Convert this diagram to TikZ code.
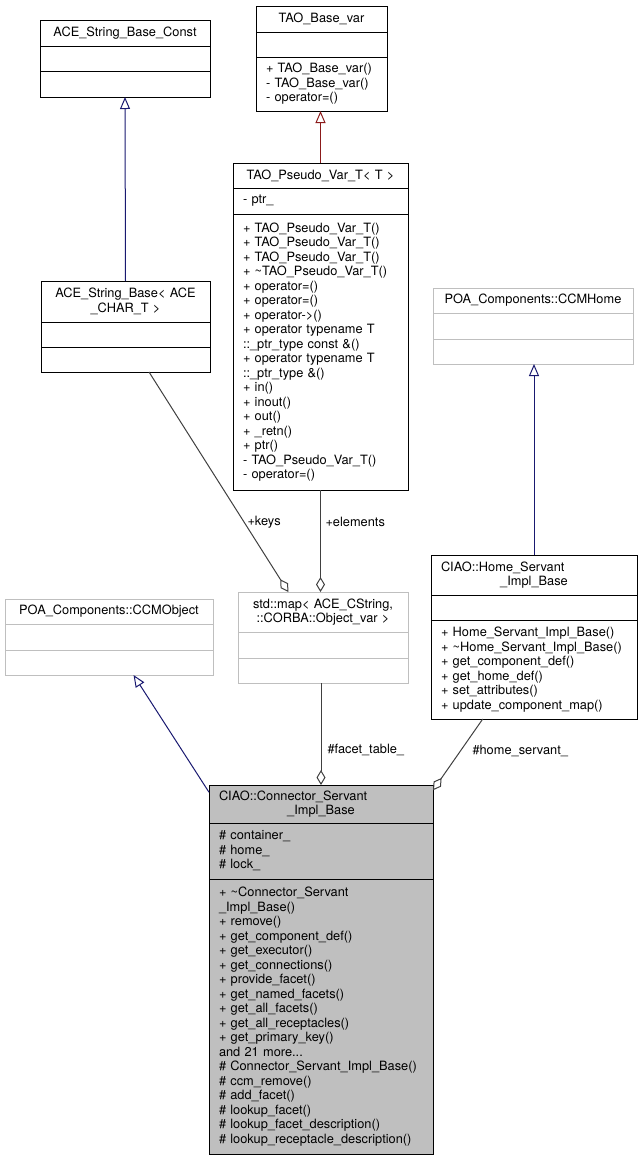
\documentclass[tikz,border=0pt]{standalone}
\usepackage{fontspec}
\setmainfont{TeX Gyre Heros}
\usepackage{xcolor}
\usepackage{tikz}
\usetikzlibrary{arrows.meta}
\definecolor{edgenavy}{RGB}{25,25,112}
\definecolor{edgered}{RGB}{139,26,26}
\definecolor{edgegray}{RGB}{64,64,64}
\definecolor{undocgray}{RGB}{191,191,191}
\definecolor{thisgray}{RGB}{191,191,191}

\begin{document}
\begin{tikzpicture}[x=1pt, y=-1pt, line width=1pt]
    % Define styles
    \tikzstyle{classhead} = [rectangle, draw=black, fill=white, anchor=north west, inner xsep=10pt, inner ysep=0pt, outer sep=0pt, align=center, font=\fontsize{12.8}{14.5}\selectfont]
    \tikzstyle{classbody} = [classhead, align=left]
    \tikzstyle{undoc} = [draw=undocgray]
    \tikzstyle{thisclass} = [fill=thisgray]
    \tikzstyle{inheritance} = [-{Triangle[open, length=12pt, width=10pt]}, draw=edgenavy]
    \tikzstyle{aggregation} = [-{Diamond[open, length=15pt, width=9pt]}, draw=edgegray]
    \tikzstyle{rolelabel} = [anchor=west, inner sep=0pt, font=\fontsize{12.8}{14.5}\selectfont]

    \useasboundingbox (0,0) rectangle (644,1160);

    % ACE string classes
    \node [classhead, text width=150pt, minimum height=26pt] (string_base_const) at (40,20) {ACE\_String\_Base\_Const};
    \node [classbody, text width=150pt, minimum height=25pt] (string_base_const_attr) at (40,46) {};
    \node [classbody, text width=150pt, minimum height=26pt] (string_base_const_ops) at (40,71) {};

    \node [classhead, text width=149pt, minimum height=41pt] (string_base) at (41,281) {ACE\_String\_Base< ACE\\ \_CHAR\_T >};
    \node [classbody, text width=149pt, minimum height=25pt] (string_base_attr) at (41,322) {};
    \node [classbody, text width=149pt, minimum height=25pt] (string_base_ops) at (41,347) {};

    % TAO var classes
    \node [classhead, text width=111pt, minimum height=26pt] (base_var) at (256,6) {TAO\_Base\_var};
    \node [classbody, text width=111pt, minimum height=25pt] (base_var_attr) at (256,32) {};
    \node [classbody, text width=111pt, minimum height=54pt] (base_var_ops) at (256,57) {+ TAO\_Base\_var()\\- TAO\_Base\_var()\\- operator=()};

    \node [classhead, text width=155pt, minimum height=25pt] (pseudo_var) at (233,163) {TAO\_Pseudo\_Var\_T< T >};
    \node [classbody, text width=155pt, minimum height=26pt] (pseudo_var_attr) at (233,188) {- ptr\_};
    \node [classbody, text width=155pt, minimum height=276pt] (pseudo_var_ops) at (233,214) {+ TAO\_Pseudo\_Var\_T()\\+ TAO\_Pseudo\_Var\_T()\\+ TAO\_Pseudo\_Var\_T()\\+ \textasciitilde{}TAO\_Pseudo\_Var\_T()\\+ operator=()\\+ operator=()\\+ operator->()\\+ operator typename T\\::\_ptr\_type const \&()\\+ operator typename T\\::\_ptr\_type \&()\\+ in()\\+ inout()\\+ out()\\+ \_retn()\\+ ptr()\\- TAO\_Pseudo\_Var\_T()\\- operator=()};

    % POA component classes
    \node [classhead, undoc, text width=180pt, minimum height=25pt] (ccm_home) at (433,288) {POA\_Components::CCMHome};
    \node [classbody, undoc, text width=180pt, minimum height=26pt] (ccm_home_attr) at (433,313) {};
    \node [classbody, undoc, text width=180pt, minimum height=25pt] (ccm_home_ops) at (433,339) {};

    \node [classhead, undoc, text width=188pt, minimum height=25pt] (ccm_object) at (5,599) {POA\_Components::CCMObject};
    \node [classbody, undoc, text width=188pt, minimum height=26pt] (ccm_object_attr) at (5,624) {};
    \node [classbody, undoc, text width=188pt, minimum height=25pt] (ccm_object_ops) at (5,650) {};

    % Map of facets
    \node [classhead, undoc, text width=150pt, minimum height=40pt] (std_map) at (238,592) {std::map< ACE\_CString,\\::CORBA::Object\_var >};
    \node [classbody, undoc, text width=150pt, minimum height=26pt] (std_map_attr) at (238,632) {};
    \node [classbody, undoc, text width=150pt, minimum height=25pt] (std_map_ops) at (238,658) {};

    % CIAO servant classes
    \node [classhead, text width=186pt, minimum height=40pt] (home_servant) at (431,555) {\makebox[\hsize][l]{CIAO::Home\_Servant}\\ \_Impl\_Base};
    \node [classbody, text width=186pt, minimum height=25pt] (home_servant_attr) at (431,595) {};
    \node [classbody, text width=186pt, minimum height=99pt] (home_servant_ops) at (431,620) {+ Home\_Servant\_Impl\_Base()\\+ \textasciitilde{}Home\_Servant\_Impl\_Base()\\+ get\_component\_def()\\+ get\_home\_def()\\+ set\_attributes()\\+ update\_component\_map()};

    \node [classhead, thisclass, text width=204pt, minimum height=38pt] (connector_servant) at (209,785) {\makebox[\hsize][l]{CIAO::Connector\_Servant}\\ \_Impl\_Base};
    \node [classbody, thisclass, text width=204pt, minimum height=56pt] (connector_servant_attr) at (209,823) {\# container\_\\\# home\_\\\# lock\_};
    \node [classbody, thisclass, text width=204pt, minimum height=275pt] (connector_servant_ops) at (209,879) {+ \textasciitilde{}Connector\_Servant\\\_Impl\_Base()\\+ remove()\\+ get\_component\_def()\\+ get\_executor()\\+ get\_connections()\\+ provide\_facet()\\+ get\_named\_facets()\\+ get\_all\_facets()\\+ get\_all\_receptacles()\\+ get\_primary\_key()\\and 21 more...\\\# Connector\_Servant\_Impl\_Base()\\\# ccm\_remove()\\\# add\_facet()\\\# lookup\_facet()\\\# lookup\_facet\_description()\\\# lookup\_receptacle\_description()};

    % Generalizations
    \draw [inheritance] (string_base.north) -- (string_base_const_ops.south);
    \draw [inheritance, draw=edgered] (pseudo_var.north) -- (pseudo_var.north |- base_var_ops.south);
    \draw [inheritance] (home_servant.north) -- (home_servant.north |- ccm_home_ops.south);
    \draw [inheritance] (connector_servant.174) -- (ccm_object_ops.-27);

    % Aggregations
    \draw [aggregation] (string_base_ops.-28) -- (std_map.150);
    \draw [aggregation] (pseudo_var_ops.south) -- (pseudo_var_ops.south |- std_map.north);
    \draw [aggregation] (std_map_ops.south -| connector_servant.north) -- (connector_servant.north);
    \draw [aggregation] (home_servant_ops.-136) -- (connector_servant.7);

    % Role names
    \node [rolelabel] (keys_label) at (247,522) {+keys};
    \node [rolelabel] (elements_label) at (325,522) {+elements};
    \node [rolelabel] (facet_table_label) at (327,750) {\#facet\_table\_};
    \node [rolelabel] (home_servant_label) at (472,751) {\#home\_servant\_};
\end{tikzpicture}
\end{document}
